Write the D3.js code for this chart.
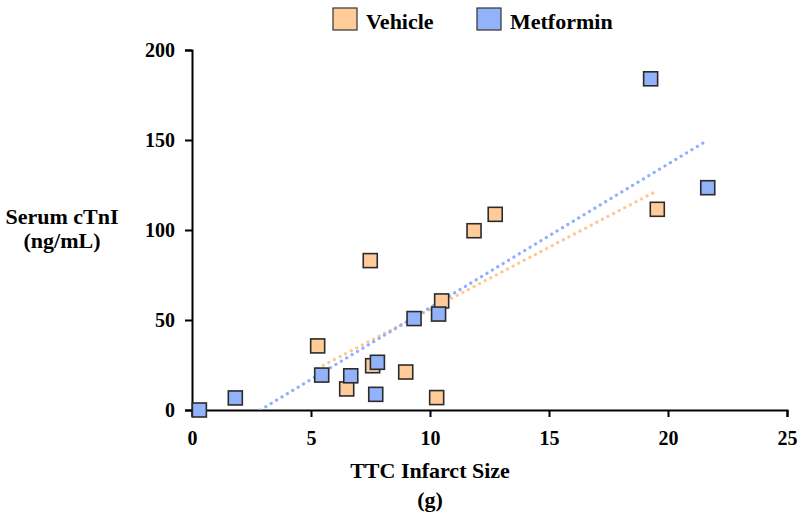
<!DOCTYPE html>
<html><head><meta charset="utf-8">
<script src="https://cdn.jsdelivr.net/npm/d3@7"></script>
<style>body{margin:0;background:#fff}svg text{font-family:"Liberation Serif","Times New Roman",serif;font-weight:bold;fill:#000}</style>
</head><body><svg id="c" width="800" height="518"></svg>
<script>
const seriesNames = ["Vehicle", "Metformin"];
const seriesColors = ["#FFCC99", "#92B2FA"];
const trendColors = ["#FFC890", "#8DB0FF"];
const vehicleX = [5.28, 6.5, 7.49, 7.59, 8.98, 10.28, 10.49, 11.85, 12.74, 19.55];
const vehicleY = [35.6, 11.7, 83, 24.6, 21.1, 6.9, 60.6, 99.6, 108.7, 111.5];
const metforminX = [0.31, 1.82, 5.45, 6.67, 7.72, 7.79, 9.33, 10.36, 19.27, 21.67];
const metforminY = [0, 6.7, 19.4, 19, 8.7, 26.5, 50.8, 53.3, 184, 123.5];
const xTicks = [0, 5, 10, 15, 20, 25];
const yTicks = [0, 50, 100, 150, 200];
const xTitle = ["TTC Infarct Size", "(g)"];
const yTitle = ["Serum cTnI", "(ng/mL)"];

const svg = d3.select("#c");
const x = d3.scaleLinear().domain([0, 25]).range([192, 787]);
const y = d3.scaleLinear().domain([0, 200]).range([410, 50]);

const series = [
  {name: seriesNames[0], xs: vehicleX, ys: vehicleY, color: seriesColors[0], tc: trendColors[0]},
  {name: seriesNames[1], xs: metforminX, ys: metforminY, color: seriesColors[1], tc: trendColors[1]}
];

// axes
const xa = svg.append("g").attr("transform", "translate(0,410)")
  .call(d3.axisBottom(x).tickValues(xTicks).tickSize(7).tickPadding(10).tickFormat(d3.format("d")));
const ya = svg.append("g").attr("transform", "translate(192,0)")
  .call(d3.axisLeft(y).tickValues(yTicks).tickSize(7).tickPadding(10).tickFormat(d3.format("d")));
[xa, ya].forEach(a => {
  a.select(".domain").attr("stroke", "#000").attr("stroke-width", 2);
  a.selectAll(".tick line").attr("stroke", "#000").attr("stroke-width", 2);
  a.selectAll(".tick text").style("font-size", "20px").attr("fill", "#000");
});
xa.selectAll(".tick text").attr("dy", "0.9em");

// trendlines (least squares), clipped to plot area
svg.append("clipPath").attr("id", "clip").append("rect")
  .attr("x", x(0)).attr("y", y(200)).attr("width", x(25) - x(0)).attr("height", y(0) - y(200));
series.forEach(s => {
  const n = s.xs.length;
  const mx = d3.mean(s.xs), my = d3.mean(s.ys);
  let sxy = 0, sxx = 0;
  for (let i = 0; i < n; i++) { sxy += (s.xs[i]-mx)*(s.ys[i]-my); sxx += (s.xs[i]-mx)**2; }
  const b = sxy / sxx, a = my - b * mx;
  let x0 = d3.min(s.xs), x1 = d3.max(s.xs);
  if (a + b * x0 < 0) x0 = -a / b;
  svg.append("line").attr("clip-path", "url(#clip)")
    .attr("x1", x(x0)).attr("y1", y(a + b * x0))
    .attr("x2", x(x1)).attr("y2", y(a + b * x1))
    .attr("stroke", s.tc).attr("stroke-width", 3.2)
    .attr("stroke-linecap", "round").attr("stroke-dasharray", "0.1 6.2");
});

// points
const sz = 14;
series.forEach(s => {
  svg.append("g").selectAll("rect").data(s.xs.map((v, i) => [v, s.ys[i]])).join("rect")
    .attr("x", d => x(d[0]) - sz/2).attr("y", d => y(d[1]) - sz/2)
    .attr("width", sz).attr("height", sz)
    .attr("fill", s.color).attr("stroke", "#2b2b2b").attr("stroke-width", 1.6);
});

// axis titles
svg.append("text").attr("text-anchor", "middle").style("font-size", "22px")
  .selectAll("tspan").data(yTitle).join("tspan")
  .attr("x", 62).attr("y", (d, i) => 224 + i * 24).text(d => d);
svg.append("text").attr("text-anchor", "middle").style("font-size", "22px")
  .selectAll("tspan").data(xTitle).join("tspan")
  .attr("x", 430).attr("y", (d, i) => 478 + i * 29).text(d => d);

// legend
const legX = [333, 477];
series.forEach((s, i) => {
  svg.append("rect").attr("x", legX[i]).attr("y", 8).attr("width", 24).attr("height", 22)
    .attr("fill", s.color).attr("stroke", "#333").attr("stroke-width", 1.2);
  svg.append("text").attr("x", legX[i] + 33).attr("y", 29).style("font-size", "22px").text(s.name);
});
</script></body></html>
